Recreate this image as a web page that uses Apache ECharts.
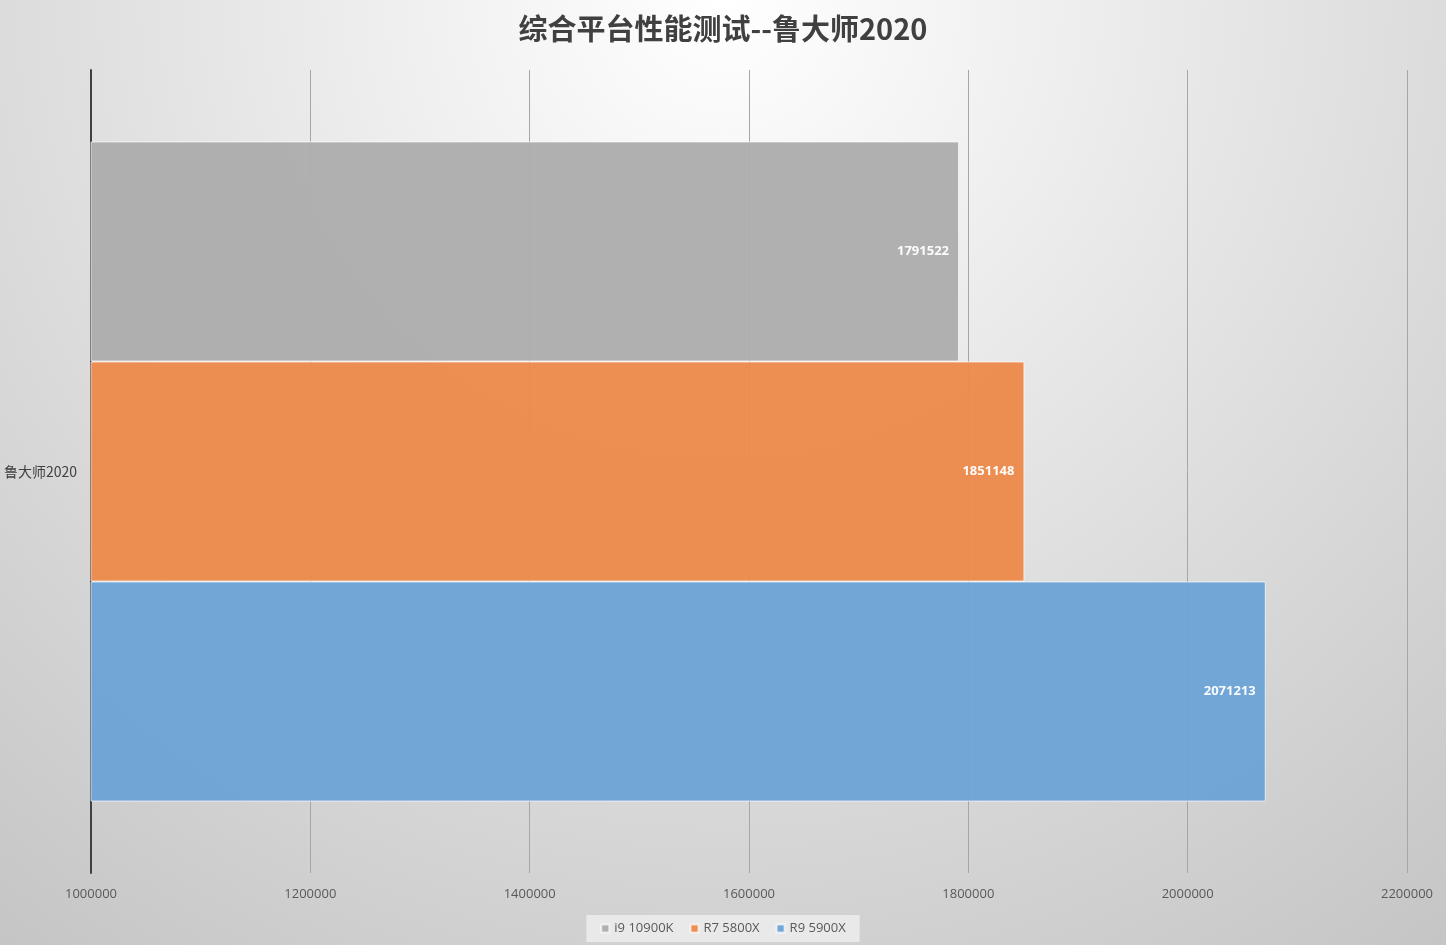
<!DOCTYPE html>
<html>
<head>
<meta charset="utf-8">
<title>综合平台性能测试--鲁大师2020</title>
<script src="https://cdn.jsdelivr.net/npm/echarts@6/dist/echarts.min.js"></script>
<style>
  html, body { margin: 0; padding: 0; }
  #main { width: 1446px; height: 945px; }
</style>
</head>
<body>
<div id="main"></div>
<script>
// 数据
const categories = ['鲁大师2020'];
const seriesNames = ['i9 10900K', 'R7 5800X', 'R9 5900X'];
const seriesValues = [[1791522], [1851148], [2071213]];
const seriesColors = ['#adadad', '#ec8a4b', '#6ca3d6'];
const xTicks = [1000000, 1200000, 1400000, 1600000, 1800000, 2000000, 2200000];

const myChart = echarts.init(document.getElementById('main'));

const series = seriesNames.map(function (name, i) {
	return {
		name: name,
		type: 'bar',
		data: seriesValues[i],
		barGap: '0%',
		barCategoryGap: '17.8%',
		itemStyle: {
			color: seriesColors[i],
			opacity: 0.96,
			borderColor: 'rgba(255,255,255,0.7)',
			borderWidth: 1
		},
		label: {
			show: true,
			position: 'insideRight',
			distance: 10,
			color: '#fff',
			fontWeight: 'bold',
			fontSize: 13,
			fontFamily: 'Open Sans'
		}
	};
});

option = {
	backgroundColor: {
		type: 'radial',
		x: 0.5,
		y: 0,
		r: 1.3,
		colorStops: [
			{ offset: 0, color: '#ffffff' },
			{ offset: 1, color: '#c3c3c3' }
		]
	},
	title: {
		text: '综合平台性能测试--鲁大师2020',
		left: 'center',
		top: 9,
		textStyle: {
			color: '#404040',
			fontSize: 29,
			fontWeight: 'bold',
			fontFamily: 'Noto Sans CJK SC'
		}
	},
	legend: {
		bottom: 3,
		left: 'center',
		data: seriesNames,
		icon: 'rect',
		itemWidth: 8,
		itemHeight: 8,
		itemGap: 16,
		padding: [7, 14],
		backgroundColor: 'rgba(235,235,235,0.9)',
		textStyle: {
			color: '#595959',
			fontSize: 13,
			fontFamily: 'Open Sans'
		}
	},
	grid: {
		left: 91,
		right: 39,
		top: 70,
		bottom: 72,
		containLabel: false
	},
	xAxis: {
		type: 'value',
		min: xTicks[0],
		max: xTicks[xTicks.length - 1],
		interval: xTicks[1] - xTicks[0],
		axisLine: { show: false },
		axisTick: { show: false },
		axisLabel: {
			color: '#595959',
			fontSize: 13,
			margin: 15,
			fontFamily: 'Open Sans',
			formatter: function (v) { return String(v); }
		},
		splitLine: {
			lineStyle: { color: '#a6a6a6', width: 1 }
		}
	},
	yAxis: {
		type: 'category',
		data: categories,
		axisLine: {
			lineStyle: { color: '#404040', width: 2 }
		},
		axisTick: { show: false },
		axisLabel: {
			color: '#404040',
			fontSize: 14,
			margin: 14,
			fontFamily: 'Noto Sans CJK SC'
		}
	},
	series: series
};

myChart.setOption(option);
</script>
</body>
</html>
